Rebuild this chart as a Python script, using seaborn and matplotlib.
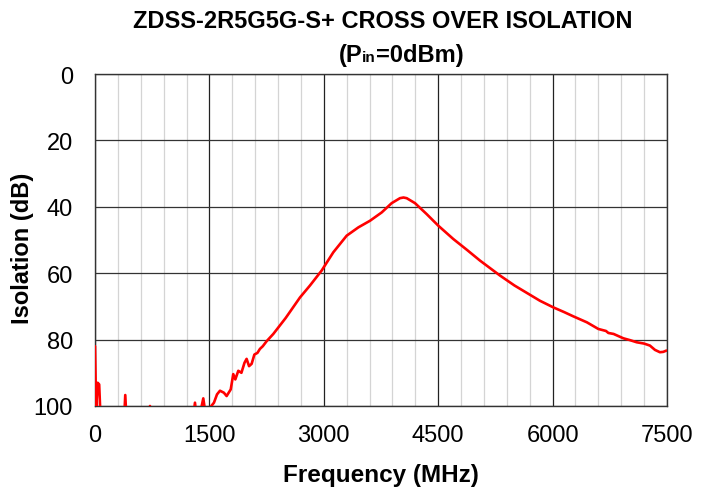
import matplotlib
matplotlib.use("Agg")
import matplotlib.pyplot as plt
import seaborn as sns
import pandas as pd
from matplotlib.ticker import MultipleLocator

freq_mhz = [0, 15, 35, 55, 70, 100,
            380, 397, 415,
            700, 721, 740,
            1280, 1311, 1340, 1390, 1420, 1460, 1508, 1560, 1600, 1639, 1690, 1726, 1780,
            1813, 1840, 1879, 1920, 1960, 1988, 2020, 2054, 2090, 2130, 2163, 2200, 2250,
            2338, 2500, 2688, 2819, 2972, 3125, 3300, 3453, 3606, 3759, 3890, 3999, 4045,
            4087, 4196, 4349, 4502, 4698, 4873, 5048, 5310, 5500, 5834, 6010, 6150, 6272,
            6450, 6600, 6700, 6731, 6800, 6927, 7020, 7102, 7200, 7276, 7342, 7407, 7450, 7494]
isolation_db = [82, 101, 93, 93.5, 102, 105,
                105, 96.7, 105,
                105, 100, 105,
                105, 99, 105, 101, 97.7, 104, 100.5, 99, 96.5, 95.4, 96, 97, 95,
                90.4, 92, 89.4, 90, 87, 85.8, 88, 87.3, 84.5, 84, 82.8, 82, 80.5,
                78.3, 73.5, 67.3, 63.7, 59.2, 53.7, 48.7, 46.2, 44.2, 41.7, 38.9, 37.4, 37.2,
                37.4, 38.9, 42.2, 45.7, 49.7, 52.9, 56.2, 60.7, 63.7, 68.3, 70.3, 71.7, 73.0,
                74.8, 76.8, 77.4, 78.0, 78.3, 79.6, 80.2, 80.8, 81.2, 81.8, 83.1, 83.8, 83.7, 83.3]

x_ticks = [0, 1500, 3000, 4500, 6000, 7500]
y_ticks = [0, 20, 40, 60, 80, 100]
title_line1 = "ZDSS-2R5G5G-S+ CROSS OVER ISOLATION"
title_line2 = ["(P", "in", "=0dBm)"]
x_label = "Frequency (MHz)"
y_label = "Isolation (dB)"

df = pd.DataFrame({"freq": freq_mhz, "iso": isolation_db})

sns.set_style("white")
plt.rcParams["font.family"] = ["Liberation Sans", "DejaVu Sans"]
plt.rcParams["text.color"] = "black"
plt.rcParams["axes.labelcolor"] = "black"
plt.rcParams["xtick.color"] = "black"
plt.rcParams["ytick.color"] = "black"

fig = plt.figure(figsize=(7.12, 4.89), dpi=100)
ax = fig.add_axes([0.1334, 0.1677, 0.9368 - 0.1334, 0.8466 - 0.1677])

sns.lineplot(data=df, x="freq", y="iso", ax=ax, color="#ff0000", linewidth=1.9,
             sort=False, estimator=None, zorder=3)

ax.set_xlim(0, 7500)
ax.set_ylim(100, 0)
ax.set_xticks(x_ticks)
ax.set_yticks(y_ticks)
ax.xaxis.set_minor_locator(MultipleLocator(300))
ax.grid(which="major", axis="x", color="#222222", linewidth=0.9)
ax.grid(which="major", axis="y", color="#333333", linewidth=0.9)
ax.grid(which="minor", axis="x", color="#d4d4d4", linewidth=0.9)
ax.tick_params(axis="y", which="major", labelsize=17, length=6, width=0.9,
               direction="out", color="#222222", pad=10)
ax.tick_params(axis="x", which="major", labelsize=17, length=6, width=0.9,
               direction="out", color="#222222", pad=7)
ax.tick_params(axis="x", which="minor", length=0)
for s in ax.spines.values():
    s.set_color("#333333")
    s.set_linewidth(1.0)

ax.set_xlabel(x_label, fontsize=17.5, fontweight="bold", labelpad=12)
ax.set_ylabel(y_label, fontsize=17, fontweight="bold")
ax.yaxis.label.set_va("center")
ax.yaxis.set_label_coords((23 - 95) / 572, 1 - (248 - 75) / 332)

fig.text(0.537, 1 - 22 / 489, title_line1, ha="center", va="center", fontsize=17, fontweight="bold")

# second title line with small "in" on the baseline
fig.canvas.draw()
renderer = fig.canvas.get_renderer()
sizes = [17, 11, 17]
pieces = []
widths = []
for txt, sz in zip(title_line2, sizes):
    t = fig.text(0, 0, txt, fontsize=sz, fontweight="bold", ha="left", va="baseline")
    bb = t.get_window_extent(renderer)
    pieces.append(t)
    widths.append(bb.width)
total = sum(widths)
W, H = fig.bbox.width, fig.bbox.height
x0 = 401 - total / 2
base_y = 1 - 62 / 489
for t, w in zip(pieces, widths):
    t.set_position((x0 / W, base_y))
    x0 += w

fig.savefig("out.png", dpi=100)
